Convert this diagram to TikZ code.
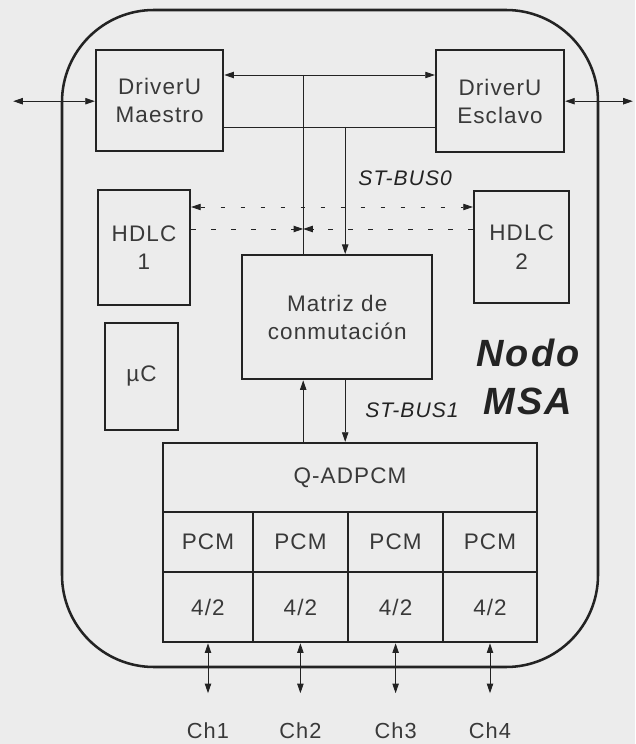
\documentclass[tikz,border=0pt]{standalone}
\usepackage{fontspec}
\setmainfont{Liberation Sans}[LetterSpace=5]
\usetikzlibrary{arrows.meta,calc}
\definecolor{paper}{RGB}{236,236,236}
\definecolor{ink}{RGB}{35,35,35}
\tikzset{
  >={Triangle[length=2.4mm,width=1.6mm]},
  unit/.style={draw=ink,line width=1.6pt,align=center,inner sep=0pt,
    font=\fontsize{16}{20}\selectfont,text=ink!90},
  wire/.style={draw=ink,line width=0.6pt},
  dwire/.style={wire,dash pattern=on 1.2mm off 3.8mm},
  buslbl/.style={font=\fontsize{15}{18}\selectfont\itshape,text=ink},
  chlbl/.style={font=\fontsize{15.5}{18}\selectfont,text=ink!90,inner sep=0pt},
}
\begin{document}
\begin{tikzpicture}
  \fill[paper] (0,0) rectangle (15.875,-18.6);
  \useasboundingbox (0,0) rectangle (15.875,-18.6);
  % node frame
  \draw[ink,line width=1.8pt,rounded corners=2.3cm] (1.55,-0.25) rectangle (14.95,-16.675);

  \node[unit,minimum width=3.18cm,minimum height=2.53cm] (maestro) at (3.99,-2.51) {DriverU\\Maestro};
  \node[unit,minimum width=3.2cm,minimum height=2.55cm] (esclavo) at (12.5,-2.53) {DriverU\\Esclavo};
  \node[unit,minimum width=2.3cm,minimum height=2.88cm] (hdlc1) at (3.6,-6.19) {HDLC\\1};
  \node[unit,minimum width=2.38cm,minimum height=2.8cm] (hdlc2) at (13.04,-6.18) {HDLC\\2};
  \node[unit,minimum width=4.75cm,minimum height=3.1cm] (matriz) at (8.43,-7.93) {Matriz de\\conmutación};
  \node[unit,minimum width=1.83cm,minimum height=2.68cm] (uc) at (3.54,-9.41) {µC};
  \node[unit,minimum width=9.35cm,minimum height=1.73cm] (qadpcm) at (8.75,-11.94) {Q-ADPCM};

  % channels
  \foreach \i/\x/\w in {1/5.2/2.25,2/7.51/2.375,3/9.89/2.375,4/12.25/2.35} {
    \node[unit,minimum width=\w cm,minimum height=1.5cm] (pcm\i) at (\x,-13.55) {PCM};
    \node[unit,minimum width=\w cm,minimum height=1.75cm] (hyb\i) at (\x,-15.18) {4/2};
    \coordinate (chp\i) at (\x,-17.33);
    \node[chlbl] (ch\i) at (\x,-18.27) {Ch\i};
    \draw[wire,<->] (hyb\i) -- (chp\i);
  }

  % ST-BUS0
  \coordinate (bus0a) at (7.58,-1.875);
  \coordinate (bus0b) at (8.63,-3.175);
  \draw[wire,<->] (maestro.east |- bus0a) -- (esclavo.west |- bus0a);
  \draw[wire] (maestro.east |- bus0b) -- (esclavo.west |- bus0b);
  \draw[wire] (bus0a) -- (bus0a |- matriz.north);
  \draw[wire,->] (bus0b) -- (bus0b |- matriz.north);

  % HDLC links
  \coordinate (hd1) at (7.58,-5.175);
  \coordinate (hd2) at (7.58,-5.725);
  \draw[dwire,<->] (hdlc1.east |- hd1) -- (hdlc2.west |- hd1);
  \draw[dwire,->] (hdlc1.east |- hd2) -- (hd2);
  \draw[dwire,->] (hdlc2.west |- hd2) -- (hd2);

  % ST-BUS1
  \draw[wire,->] (bus0a |- qadpcm.north) -- (bus0a |- matriz.south);
  \draw[wire,->] (bus0b |- matriz.south) -- (bus0b |- qadpcm.north);

  % outside
  \coordinate (extl) at (0.33,-2.53);
  \coordinate (extr) at (15.82,-2.53);
  \draw[wire,<->] (extl) -- (maestro.west |- extl);
  \draw[wire,<->] (esclavo.east |- extr) -- (extr);

  \node[buslbl] (st0) at (10.13,-4.45) {ST-BUS0};
  \node[buslbl] (st1) at (10.3,-10.25) {ST-BUS1};
  \node[font=\fontsize{27}{34}\selectfont\bfseries\itshape,text=ink,align=center] (nodo) at (13.2,-9.43) {Nodo\\MSA};
\end{tikzpicture}
\end{document}
